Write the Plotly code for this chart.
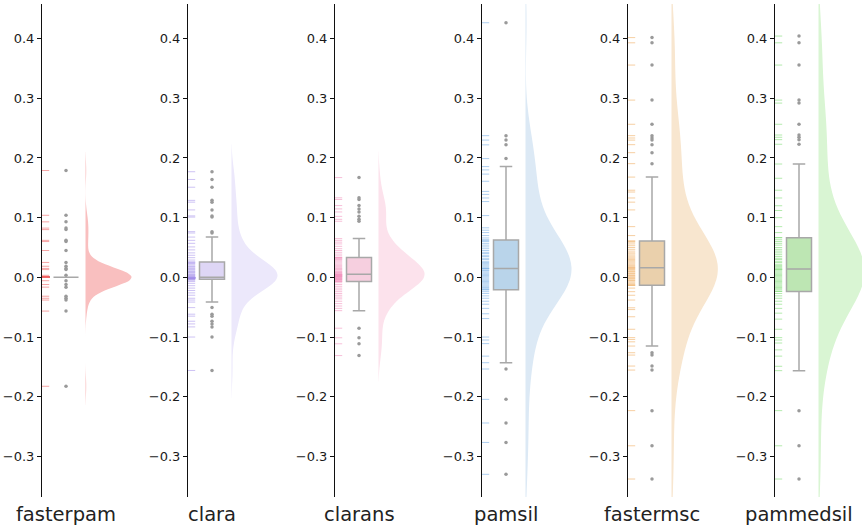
import numpy as np
import plotly.graph_objects as go

# ---------------- data ----------------
methods = ["fasterpam", "clara", "clarans", "pamsil", "fastermsc", "pammedsil"]

fasterpam = [
    -0.1825, -0.0565, -0.038, -0.035, -0.0316, -0.0164, -0.012, -0.0056,
    0.0, 0.0, 0.0, 0.0, 0.0, 0.0, 0.0, 0.0, 0.0, 0.0,
    0.0, 0.0, 0.0, 0.0, 0.0, 0.0, 0.0, 0.0, 0.0, 0.0,
    0.0, 0.0, 0.0, 0.0, 0.0, 0.0, 0.0, 0.0, 0.0, 0.0,
    0.0, 0.0, 0.0, 0.0, 0.0, 0.0, 0.0, 0.0, 0.0, 0.0,
    0.0, 0.0, 0.0, 0.0, 0.0, 0.0, 0.0, 0.0, 0.0, 0.0,
    0.0, 0.0, 0.0, 0.0, 0.0, 0.0, 0.0, 0.0, 0.0,
    0.0034, 0.013, 0.015, 0.0186, 0.025, 0.045, 0.060, 0.062, 0.080, 0.0825,
    0.093, 0.104, 0.179,
]

clara = [
    -0.156, -0.100, -0.083, -0.078, -0.0735, -0.065, -0.0617, -0.0507,
    -0.0414,
    -0.038, -0.035, -0.030, -0.026, -0.022, -0.018, -0.014, -0.010, -0.007, -0.005,
    -0.003, -0.003,
    -0.0028, -0.0025, -0.0022, -0.002, -0.0018, -0.0015, -0.0013, -0.0011, -0.001,
    -0.0008, -0.0006, -0.0005, -0.0004, -0.0003, -0.0002, -0.0001, 0.0, 0.0,
    0.0, 0.0,
    0.001, 0.002, 0.003, 0.004, 0.005, 0.006, 0.008, 0.009, 0.010, 0.012,
    0.013, 0.015, 0.016, 0.018, 0.019, 0.021, 0.023, 0.024,
    0.0256, 0.0256,
    0.029, 0.033, 0.037, 0.041, 0.046, 0.051, 0.057, 0.062,
    0.0675,
    0.0743, 0.0766, 0.101, 0.103, 0.113, 0.126, 0.129, 0.151, 0.164, 0.177,
]

clarans = [
    -0.131, -0.1113, -0.1012, -0.0852,
    -0.0558,
    -0.052, -0.048, -0.044, -0.040, -0.036, -0.033, -0.030, -0.027, -0.024,
    -0.021, -0.018, -0.015, -0.012, -0.009,
    -0.0068, -0.0068,
    -0.006, -0.005, -0.004, -0.0035, -0.003, -0.002, -0.0015, -0.001, 0.0,
    0.0005, 0.001, 0.0015, 0.002, 0.0025, 0.003, 0.0035, 0.004, 0.0045,
    0.005, 0.005,
    0.006, 0.007, 0.008, 0.009, 0.010, 0.012, 0.013, 0.015, 0.016, 0.018,
    0.020, 0.022, 0.024, 0.026, 0.028, 0.030, 0.031, 0.032,
    0.0333, 0.0333,
    0.036, 0.039, 0.042, 0.045, 0.048, 0.052, 0.056, 0.059, 0.062,
    0.0649,
    0.094, 0.0972, 0.1022, 0.1096, 0.1147, 0.1203, 0.1305, 0.1333, 0.1672,
]

pamsil = [
    -0.330, -0.2766, -0.244, -0.2044, -0.1536,
    -0.143,
    -0.132, -0.111, -0.105, -0.100, -0.069, -0.061, -0.052, -0.045, -0.040,
    -0.035, -0.031, -0.027, -0.024,
    -0.0208, -0.0208,
    -0.019, -0.017, -0.015, -0.013, -0.011, -0.009, -0.007, -0.005, -0.003,
    -0.001, 0.001, 0.003, 0.005, 0.007, 0.009, 0.011, 0.012, 0.014,
    0.015, 0.015,
    0.017, 0.019, 0.021, 0.023, 0.025, 0.027, 0.030, 0.032, 0.035, 0.037,
    0.040, 0.042, 0.045, 0.048, 0.051, 0.054, 0.057, 0.060,
    0.0625, 0.0625,
    0.066, 0.070, 0.075, 0.079, 0.083, 0.1035, 0.127, 0.133, 0.139, 0.144,
    0.161, 0.173, 0.180,
    0.1856,
    0.199, 0.222, 0.230, 0.2374, 0.4266,
]

fastermsc = [
    -0.3379, -0.2822, -0.2233, -0.1553, -0.1486, -0.1302, -0.1263,
    -0.1151,
    -0.108, -0.104, -0.101, -0.087, -0.066, -0.054, -0.051, -0.038, -0.030,
    -0.024, -0.018,
    -0.0134, -0.0134,
    -0.012, -0.010, -0.008, -0.006, -0.005, -0.003, -0.002, 0.0, 0.001,
    0.003, 0.004, 0.006, 0.007, 0.009, 0.010, 0.012, 0.013, 0.015,
    0.0161, 0.0161,
    0.018, 0.020, 0.022, 0.024, 0.026, 0.028, 0.030, 0.032, 0.034, 0.036,
    0.039, 0.041, 0.044, 0.047, 0.050, 0.053, 0.056, 0.059,
    0.0608, 0.0608,
    0.070, 0.085, 0.113, 0.126, 0.133, 0.143, 0.146,
    0.168,
    0.1905, 0.2089, 0.2223, 0.2300, 0.2335, 0.2374, 0.2565, 0.2970, 0.3557,
    0.3930, 0.4017,
]

pammedsil = [
    -0.3379, -0.2822, -0.2233,
    -0.1563,
    -0.149, -0.132, -0.1215, -0.110, -0.105, -0.101, -0.087, -0.070, -0.060,
    -0.052, -0.045, -0.040, -0.035, -0.031, -0.027,
    -0.0235, -0.0235,
    -0.021, -0.019, -0.017, -0.015, -0.013, -0.011, -0.009, -0.007, -0.005,
    -0.003, -0.001, 0.001, 0.003, 0.005, 0.007, 0.009, 0.011, 0.013,
    0.0139, 0.0139,
    0.016, 0.018, 0.020, 0.022, 0.025, 0.027, 0.030, 0.032, 0.035, 0.038,
    0.041, 0.044, 0.047, 0.050, 0.054, 0.057, 0.060, 0.063,
    0.0665, 0.0665,
    0.075, 0.085, 0.100, 0.112, 0.120, 0.133, 0.146, 0.166,
    0.1899,
    0.223, 0.2307, 0.2347, 0.2385, 0.2565, 0.292, 0.297, 0.3557, 0.393, 0.4043,
]

series = [fasterpam, clara, clarans, pamsil, fastermsc, pammedsil]

tick_values = [-0.3, -0.2, -0.1, 0.0, 0.1, 0.2, 0.3, 0.4]
tick_labels = ["\u22120.3", "\u22120.2", "\u22120.1", "0.0", "0.1", "0.2", "0.3", "0.4"]

# ---------------- styles ----------------
rug_colors = ["rgba(240,105,105,0.6)", "rgba(165,145,235,0.55)", "rgba(240,140,185,0.55)",
              "rgba(120,175,230,0.6)", "rgba(240,175,100,0.6)", "rgba(130,220,120,0.6)"]
box_fills = ["#f6b5b3", "#ded6f5", "#f6cfdf", "#b9d4ea", "#ead0ac", "#bde6b3"]
violin_fills = ["#f9bfbf", "#ece8fb", "#fce2ec", "#dce9f5", "#f8e6cf", "#d9f5d3"]

FIG_W, FIG_H = 862, 527
ML, MR, MT, MB = 42, 0, 4, 30
PLOT_W = FIG_W - ML - MR
panel_offsets = [0, 146, 293, 440, 586, 733]   # px from plot left
PANEL_W = 100
Y_RANGE = [-0.368, 0.458]

RUG_X, RUG_LEN = 3, 6
BOX_X, BOX_W = 24, 25
VIO_X, VIO_W = 43.5, 92

fig = go.Figure()
for i, (name, vals) in enumerate(zip(methods, series)):
    k = "" if i == 0 else str(i + 1)
    xa, ya = "x" + k, "y" + k
    arr = np.asarray(vals, dtype=float)
    bw = float(np.std(arr, ddof=1) * len(arr) ** -0.2)

    fig.add_trace(go.Violin(
        y=arr, x0=VIO_X, xaxis=xa, yaxis=ya, name=name + " kde",
        side="positive", width=VIO_W, bandwidth=bw, spanmode="soft",
        points=False, box_visible=False, meanline_visible=False,
        fillcolor=violin_fills[i], line=dict(width=0, color=violin_fills[i]),
        opacity=1, showlegend=False, hoverinfo="skip",
    ))
    fig.add_trace(go.Box(
        y=arr, x0=BOX_X, xaxis=xa, yaxis=ya, name=name,
        width=BOX_W, whiskerwidth=0.5, boxpoints="outliers",
        fillcolor=box_fills[i], line=dict(color="#a8a8a8", width=1.5),
        marker=dict(color="#9a9a9a", size=3.5, line=dict(width=0)),
        showlegend=False, hoverinfo="skip",
    ))
    fig.add_trace(go.Scatter(
        x=[RUG_X] * len(arr), y=arr, xaxis=xa, yaxis=ya, mode="markers",
        marker=dict(symbol="line-ew", size=RUG_LEN,
                    line=dict(width=1, color=rug_colors[i])),
        showlegend=False, hoverinfo="skip",
    ))

    x0 = panel_offsets[i] / PLOT_W
    x1 = min(panel_offsets[i] + PANEL_W, PLOT_W) / PLOT_W
    w_units = min(PANEL_W, PLOT_W - panel_offsets[i])
    fig.layout["xaxis" + k] = dict(
        domain=[x0, x1], range=[0, w_units], anchor=ya, visible=False,
        showgrid=False, zeroline=False, fixedrange=True,
    )
    fig.layout["yaxis" + k] = dict(
        domain=[0, 1], range=Y_RANGE, anchor=xa,
        showline=True, linecolor="#111", linewidth=1,
        ticks="outside", ticklen=4, tickwidth=1, tickcolor="#111",
        tickvals=tick_values, ticktext=tick_labels,
        tickfont=dict(family="DejaVu Sans", size=13, color="#1a1a1a"),
        showgrid=False, zeroline=False,
    )
    fig.add_annotation(
        xref="paper", yref="paper", x=(panel_offsets[i] + BOX_X) / PLOT_W, y=0,
        yanchor="middle", xanchor="center", yshift=-17, showarrow=False,
        text=name, font=dict(family="DejaVu Sans", size=19.5, color="#222"),
    )

fig.update_layout(
    width=FIG_W, height=FIG_H,
    margin=dict(l=ML, r=MR, t=MT, b=MB),
    paper_bgcolor="white", plot_bgcolor="rgba(0,0,0,0)",
    boxmode="overlay", violinmode="overlay", showlegend=False,
)

fig.write_html(
    "out.html",
    config={"displayModeBar": False},
    post_script="document.body.style.margin='0';document.body.style.overflow='hidden';",
)
